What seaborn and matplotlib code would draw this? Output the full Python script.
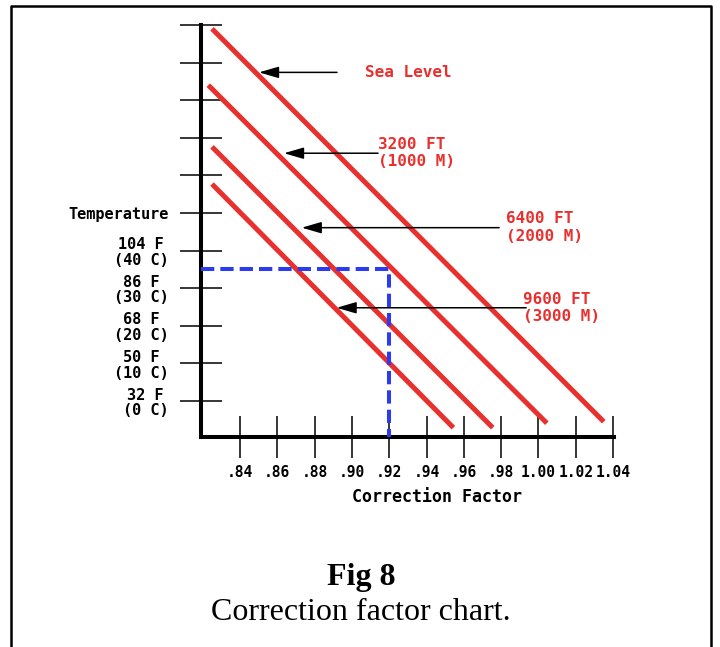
import numpy as np
import pandas as pd
import matplotlib
matplotlib.use("Agg")
import matplotlib.pyplot as plt
import seaborn as sns
from matplotlib.lines import Line2D

# ---------------- data ----------------
altitudes = ["Sea Level", "3200 FT\n(1000 M)", "6400 FT\n(2000 M)", "9600 FT\n(3000 M)"]
line_x_start = [0.825, 0.823, 0.825, 0.825]
line_y_start = [99.0, 84.0, 67.6, 57.7]
line_x_end = [1.035, 1.0045, 0.9755, 0.9544]
line_y_end = [-5.5, -5.9, -7.1, -7.1]

arrow_tip_x = [0.8502, 0.8636, 0.8731, 0.8918]
arrow_y = [87.4, 65.9, 46.1, 24.8]
arrow_tail_x = [0.8920, 0.9140, 0.9789, 0.9934]
label_x = [0.907, 0.914, 0.9826, 0.9919]

example_temp_c = 35
example_factor = 0.92

temp_ticks_c = [0, 10, 20, 30, 40, 50, 60, 70, 80, 90, 100]
temp_labels = ["32 F\n(0 C)", "50 F\n(10 C)", "68 F\n(20 C)", "86 F\n(30 C)",
               "104 F\n(40 C)", "Temperature", "", "", "", "", ""]
factor_ticks = [0.84, 0.86, 0.88, 0.90, 0.92, 0.94, 0.96, 0.98, 1.00, 1.02, 1.04]
factor_labels = [".84", ".86", ".88", ".90", ".92", ".94", ".96", ".98",
                 "1.00", "1.02", "1.04"]

x_limits = (0.8191, 1.0405)
y_limits = (-9.57, 100.0)

# ---------------- styling ----------------
sns.set_style("white")
plt.rcParams["text.color"] = "black"
plt.rcParams["axes.labelcolor"] = "black"
RED = "#e8302e"
BLUE = "#2b3cf0"
MONO = ["DejaVu Sans Mono"]
SERIF = ["Liberation Serif", "DejaVu Serif"]

df = pd.DataFrame({
    "altitude": [a for a in altitudes for _ in range(2)],
    "factor": [v for pair in zip(line_x_start, line_x_end) for v in pair],
    "temp": [v for pair in zip(line_y_start, line_y_end) for v in pair],
})

fig = plt.figure(figsize=(7.2, 6.47), dpi=100)
ax = fig.add_axes([201 / 720, 1 - 437 / 647, 413 / 720, 412 / 647])

sns.lineplot(data=df, x="factor", y="temp", hue="altitude",
             palette=[RED] * len(altitudes), estimator=None, sort=False,
             legend=False, linewidth=3.6, ax=ax)
for ln in ax.get_lines():
    ln.set_solid_capstyle("butt")

# blue dashed example guide
ax.plot([x_limits[0], example_factor, example_factor],
        [example_temp_c, example_temp_c, y_limits[0]],
        color=BLUE, lw=2.9, dashes=(3.3, 1.5), solid_capstyle="butt",
        dash_capstyle="butt", zorder=3)

# arrows and labels
for name, tx, ty, tl, lx in zip(altitudes, arrow_tip_x, arrow_y, arrow_tail_x, label_x):
    ax.annotate("", xy=(tx, ty), xytext=(tl, ty),
                arrowprops=dict(arrowstyle="-|>,head_length=1.2,head_width=0.35",
                                mutation_scale=10, color="black", lw=1.1,
                                shrinkA=0, shrinkB=0), zorder=4)
    ax.text(lx, ty, name, color=RED, family=MONO, fontweight="bold",
            fontsize=11.5, ha="left", va="center", multialignment="left",
            linespacing=1.2)

ax.set_xlim(*x_limits)
ax.set_ylim(*y_limits)
ax.set_xticks(factor_ticks)
ax.set_xticklabels(factor_labels, family=MONO, fontweight="bold", fontsize=10.5)
ax.set_yticks(temp_ticks_c)
ax.set_yticklabels(temp_labels, family=MONO, fontweight="bold", fontsize=11,
                   linespacing=1.05)
for lab in ax.get_yticklabels():
    lab.set_multialignment("center")

ax.tick_params(axis="both", direction="inout", length=30, width=1.1,
               color="black", labelcolor="black", bottom=True, left=True)
ax.tick_params(axis="x", pad=5.0)
ax.tick_params(axis="y", pad=8.5)

for side in ["top", "right"]:
    ax.spines[side].set_visible(False)
for side in ["left", "bottom"]:
    ax.spines[side].set_linewidth(2.9)
    ax.spines[side].set_color("black")

ax.set_xlabel("Correction Factor", family=MONO, fontweight="bold", fontsize=12,
              color="black")
ax.xaxis.set_label_coords((437.5 - 201) / 413, (437 - 497) / 412)
ax.xaxis.label.set_va("center")
ax.set_ylabel("")
ax.patch.set_alpha(0)

# caption
fig.text(361 / 720, 1 - 577 / 647, "Fig 8", ha="center", va="center",
         family=SERIF, fontweight="bold", fontsize=23, color="black")
fig.text(361 / 720, 1 - 612 / 647, "Correction factor chart.", ha="center",
         va="center", family=SERIF, fontsize=23, color="black")

# frame (top, left, right)
fx0, fx1, fy = 11 / 720, 711 / 720, 1 - 6 / 647
fig.add_artist(Line2D([fx0, fx0, fx1, fx1], [0, fy, fy, 0],
                      transform=fig.transFigure, color="black", lw=1.8))

fig.savefig("out.png", dpi=100)
